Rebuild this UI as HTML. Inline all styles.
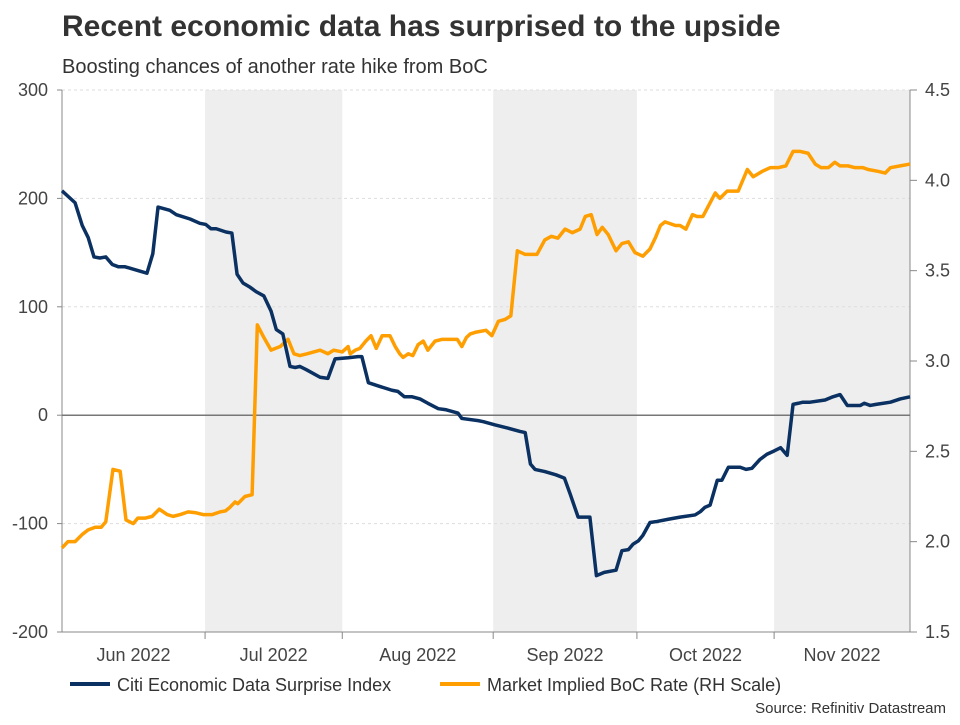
<!DOCTYPE html>
<html><head><meta charset="utf-8"><style>
body{margin:0;background:#fff;font-family:"Liberation Sans",Arial,sans-serif;}
</style></head><body>
<svg id="chart" width="960" height="720" xmlns="http://www.w3.org/2000/svg" font-family="Liberation Sans, Arial, sans-serif">
<text x="62" y="36" font-size="30" font-weight="bold" fill="#333">Recent economic data has surprised to the upside</text>
<text x="62" y="73" font-size="20" fill="#333">Boosting chances of another rate hike from BoC</text>
<g id="bands"></g><g id="grid"></g><g id="axes"></g><g id="series"></g>
<g>
<line x1="70" y1="684" x2="110" y2="684" stroke="#0a3161" stroke-width="4"/>
<text x="117" y="691" font-size="18" fill="#333">Citi Economic Data Surprise Index</text>
<line x1="440" y1="684" x2="480" y2="684" stroke="#ff9e00" stroke-width="4"/>
<text x="487" y="691" font-size="18" fill="#333">Market Implied BoC Rate (RH Scale)</text>
</g>
<text x="946" y="713" font-size="15" fill="#333" text-anchor="end">Source: Refinitiv Datastream</text>
</svg>
<script>
const monthLabels=["Jun 2022","Jul 2022","Aug 2022","Sep 2022","Oct 2022","Nov 2022"];
const monthStarts=[0,21.9,42.9,66.0,88.0,109.0,129.8];
const shadedMonths=[1,3,5];
const leftTicks=[300,200,100,0,-100,-200];
const rightTicks=[4.5,4.0,3.5,3.0,2.5,2.0,1.5];
const citiDays=[0,2.0,3.1,4.0,4.9,5.8,6.7,7.7,8.6,9.6,11.3,13.0,13.9,14.7,16.5,17.5,19.6,21.1,22.0,22.8,23.6,25.1,26.0,26.8,27.7,28.8,29.7,30.9,32.0,32.8,33.8,34.9,35.7,36.4,37.4,39.5,40.7,41.8,43.8,45.3,45.9,46.9,48.4,50.5,51.4,52.4,53.6,54.8,56.0,57.6,58.8,60.6,61.2,63.7,64.5,66.3,68.3,70.1,70.9,71.7,72.4,73.9,75.6,76.9,77.8,79.0,80.1,80.8,81.8,83.0,84.8,85.7,86.7,87.4,88.2,88.9,90.0,91.1,92.8,94.6,96.9,97.7,98.4,99.2,100.3,101.0,102.0,103.8,104.7,105.6,106.8,107.9,109.0,110.0,111.0,111.9,112.7,113.4,114.5,116.8,118.0,119.1,120.2,122.2,122.8,123.7,124.6,126.8,128.3,129.8];
const citiValues=[207,196,175,164,146,145,146,139,137,137,134,131,149,192,189,185,181,177,176,172,172,169,168,130,122,118,114,110,96,79,75,45,44,45,42,35,34,52,53,54,54,30,27,23,22,17,17,15,11,6,5,2,-3,-5,-6,-9,-12,-15,-16,-45,-50,-52,-55,-58,-73,-94,-94,-94,-148,-145,-143,-125,-124,-119,-116,-111,-99,-98,-96,-94,-92,-89,-85,-83,-60,-60,-48,-48,-50,-49,-41,-36,-33,-30,-37,10,11,12,12,14,17,19,9,9,11,9,10,12,15,17];
const bocDays=[0,0.9,2.0,3.1,4.0,5.1,6.0,6.7,7.8,8.9,9.8,10.9,11.6,12.7,13.8,14.9,16.1,17.0,18.1,19.3,20.5,21.6,23.0,24.2,25.0,25.7,26.5,26.9,28.0,29.1,29.9,30.9,32.0,33.4,34.6,35.5,36.4,37.5,39.5,40.7,41.6,42.9,43.8,44.1,44.9,45.6,46.5,47.3,48.1,49.0,50.2,51.0,51.7,52.2,53.0,53.7,54.5,55.3,56.0,57.1,58.2,59.7,60.5,61.2,61.9,62.5,63.4,64.9,65.8,66.8,67.8,68.7,69.7,70.9,72.7,73.9,74.9,75.9,77.0,78.1,79.3,80.1,81.0,81.9,82.7,83.6,84.8,85.7,86.7,87.7,88.9,90.0,90.8,91.6,92.3,93.9,94.6,95.5,96.5,97.2,98.1,100.0,100.7,101.8,102.3,103.5,104.9,105.8,107.2,108.4,109.6,110.8,111.9,113.0,114.2,115.3,116.2,117.3,118.3,119.1,120.3,121.4,122.6,123.4,124.9,126.0,126.8,128.3,129.8];
const bocValues=[1.965,2.00,2.00,2.04,2.065,2.08,2.08,2.11,2.40,2.39,2.12,2.10,2.13,2.13,2.14,2.18,2.15,2.14,2.15,2.165,2.16,2.15,2.15,2.165,2.17,2.19,2.22,2.21,2.25,2.26,3.20,3.13,3.06,3.08,3.12,3.04,3.03,3.04,3.06,3.04,3.06,3.05,3.08,3.04,3.06,3.07,3.11,3.14,3.07,3.14,3.14,3.08,3.04,3.02,3.04,3.03,3.09,3.11,3.06,3.11,3.12,3.12,3.12,3.08,3.13,3.15,3.16,3.17,3.14,3.22,3.23,3.25,3.61,3.59,3.59,3.67,3.69,3.68,3.73,3.71,3.73,3.80,3.81,3.70,3.74,3.70,3.61,3.65,3.66,3.60,3.58,3.62,3.68,3.75,3.77,3.75,3.75,3.73,3.81,3.80,3.80,3.93,3.90,3.94,3.94,3.94,4.06,4.02,4.05,4.07,4.07,4.08,4.16,4.16,4.15,4.09,4.07,4.07,4.10,4.08,4.08,4.07,4.07,4.06,4.05,4.04,4.07,4.08,4.09];

const NS="http://www.w3.org/2000/svg";
const X0=62,X1=910,Y0=90,Y1=632;
const xS=d=>X0+(d-monthStarts[0])/(monthStarts[monthStarts.length-1]-monthStarts[0])*(X1-X0);
const yL=v=>Y1-(v-(-200))/(500)*(Y1-Y0);
const yR=v=>Y1-(v-1.5)/(3)*(Y1-Y0);
function mk(tag,attrs,parent,txt){const e=document.createElementNS(NS,tag);for(const k in attrs)e.setAttribute(k,attrs[k]);if(txt!==undefined)e.textContent=txt;parent.appendChild(e);return e;}
const bands=document.getElementById('bands'),grid=document.getElementById('grid'),axes=document.getElementById('axes'),series=document.getElementById('series');
shadedMonths.forEach(i=>{
  const r=mk('rect',{x:xS(monthStarts[i]),y:Y0,width:xS(monthStarts[i+1])-xS(monthStarts[i]),height:Y1-Y0,fill:'#eeeeee'},bands);
  
  
});
leftTicks.forEach(v=>{
  if(v!==0&&v!==-200){const l=mk('line',{x1:X0,x2:X1,y1:yL(v),y2:yL(v),stroke:'#dddddd','stroke-dasharray':'3,3'},grid);
  
  }
  mk('line',{x1:X0-5,x2:X0,y1:yL(v),y2:yL(v),stroke:'#888'},axes);
  const t=mk('text',{x:X0-14,y:yL(v)+6,'font-size':18,fill:'#444','text-anchor':'end'},axes,String(v));
  
  
});
rightTicks.forEach(v=>{
  mk('line',{x1:X1,x2:X1+7,y1:yR(v),y2:yR(v),stroke:'#888'},axes);
  const t=mk('text',{x:X1+15,y:yR(v)+6,'font-size':18,fill:'#444'},axes,v.toFixed(1));
  
  
});
mk('line',{x1:X0,x2:X0,y1:Y0,y2:Y1,stroke:'#888'},axes);
mk('line',{x1:X1,x2:X1,y1:Y0,y2:Y1,stroke:'#888'},axes);
mk('line',{x1:X0,x2:X1,y1:yL(0),y2:yL(0),stroke:'#777','stroke-width':1.5},axes);
mk('line',{x1:X0,x2:X1,y1:Y1,y2:Y1,stroke:'#888'},axes);
monthLabels.forEach((m,i)=>{
  if(i>0)mk('line',{x1:xS(monthStarts[i]),x2:xS(monthStarts[i]),y1:Y1,y2:Y1+7,stroke:'#888'},axes);
  const t=mk('text',{x:(xS(monthStarts[i])+xS(monthStarts[i+1]))/2,y:Y1+29,'font-size':18,fill:'#444','text-anchor':'middle'},axes,m);
  
  
});
const p1=mk('polyline',{points:bocDays.map((d,i)=>xS(d)+','+yR(bocValues[i])).join(' '),fill:'none',stroke:'#ff9e00','stroke-width':3.5,'stroke-linejoin':'round'},series);


const p2=mk('polyline',{points:citiDays.map((d,i)=>xS(d)+','+yL(citiValues[i])).join(' '),fill:'none',stroke:'#0a3161','stroke-width':3.5,'stroke-linejoin':'round'},series);


</script>
</body></html>
